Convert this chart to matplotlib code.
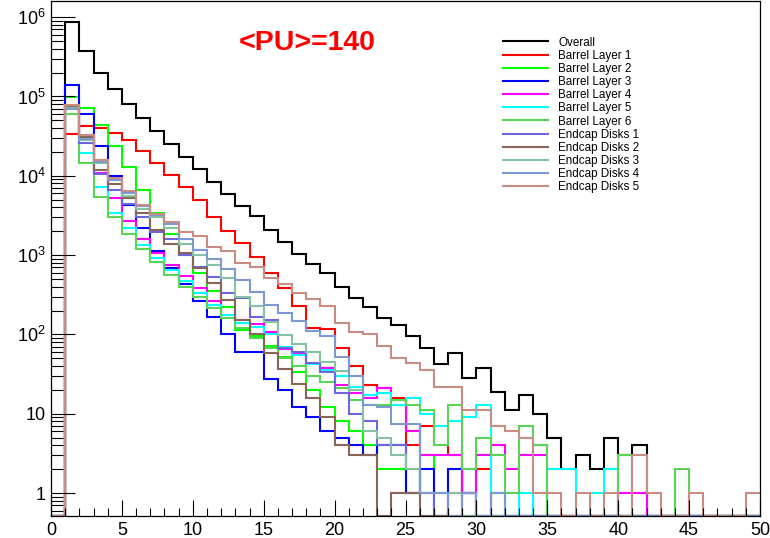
import numpy as np
import matplotlib
matplotlib.use("Agg")
import matplotlib.pyplot as plt
from matplotlib.ticker import FixedLocator, FuncFormatter, MultipleLocator

plt.rcParams['font.family'] = ['Liberation Sans', 'DejaVu Sans']
plt.rcParams['mathtext.fontset'] = 'custom'
plt.rcParams['mathtext.rm'] = 'Liberation Sans'
plt.rcParams['mathtext.it'] = 'Liberation Sans'

# ---- data: bin contents for bins [0,1), [1,2), ... [49,50) ----
bin_edges = np.arange(0, 51, 1)

overall = [0, 8.6e5, 3.8e5, 2.0e5, 1.23e5, 8.0e4, 5.3e4, 3.67e4, 2.5e4, 1.74e4,
           1.23e4, 8.4e3, 5.9e3, 4.15e3, 3.1e3, 2.07e3, 1.47e3, 1.02e3, 766, 589,
           395, 285, 220, 162, 131, 95, 67, 42, 59, 28,
           38, 19, 11, 17, 10, 5, 2, 3, 2, 5,
           3, 4, 0, 0, 0, 0, 0, 0, 0, 0]
barrel1 = [0, 3.4e4, 4.2e4, 4.0e4, 3.5e4, 2.8e4, 2.07e4, 1.44e4, 1.02e4, 7.2e3,
           4.9e3, 3.05e3, 2.03e3, 1.44e3, 937, 600, 381, 230, 119, 116,
           67, 40, 23, 21, 16, 4, 7, 4, 3, 1,
           2, 0, 0, 0, 0, 0, 0, 0, 0, 0,
           0, 0, 0, 0, 0, 0, 0, 0, 0, 0]
barrel2 = [0, 9.8e4, 7.1e4, 4.37e4, 2.37e4, 1.28e4, 6.6e3, 3.4e3, 1.85e3, 1.0e3,
           590, 355, 224, 113, 95, 72, 52, 34, 20, 12,
           8, 6, 4, 2, 2, 1, 3, 1, 2, 1,
           0, 1, 0, 0, 1, 0, 0, 0, 0, 0,
           0, 0, 0, 0, 0, 0, 0, 0, 0, 0]
barrel3 = [0, 1.4e5, 5.96e4, 2.37e4, 9.8e3, 4.3e3, 2.18e3, 1.14e3, 682, 430,
           266, 164, 101, 60, 60, 27, 20, 12, 9, 6,
           5, 4, 3, 4, 4, 1, 2, 0, 2, 1,
           0, 0, 0, 0, 0, 0, 0, 0, 0, 0,
           0, 0, 0, 0, 0, 0, 0, 0, 0, 0]
barrel4 = [0, 7.6e4, 3.0e4, 1.1e4, 5.2e3, 2.69e3, 1.58e3, 1.05e3, 750, 540,
           381, 260, 176, 150, 135, 106, 65, 58, 42, 38,
           23, 18, 16, 21, 15, 6, 3, 3, 3, 1,
           3, 4, 2, 3, 3, 0, 0, 0, 0, 0,
           1, 1, 0, 0, 0, 0, 0, 0, 0, 0]
barrel5 = [0, 7.4e4, 1.95e4, 7.2e3, 3.4e3, 2.2e3, 1.35e3, 910, 650, 470,
           330, 235, 175, 140, 125, 100, 70, 55, 42, 36,
           30, 22, 17, 18, 13, 16, 10, 7, 8, 9,
           13, 1, 0, 1, 0, 2, 2, 1, 1, 2,
           0, 0, 0, 0, 0, 0, 0, 0, 0, 0]
barrel6 = [0, 6.1e4, 1.44e4, 5.4e3, 3.0e3, 1.85e3, 1.2e3, 820, 560, 400,
           300, 215, 160, 120, 90, 68, 50, 40, 30, 25,
           21, 15, 13, 13, 15, 13, 11, 4, 13, 2,
           5, 3, 1, 7, 4, 0, 0, 0, 0, 0,
           3, 0, 0, 0, 2, 0, 0, 0, 0, 0]
endcap1 = [0, 7.0e4, 2.6e4, 1.05e4, 6.6e3, 4.4e3, 3.0e3, 1.97e3, 1.58e3, 1.0e3,
           700, 535, 335, 285, 167, 150, 67, 60, 43, 34,
           18, 10, 8, 4, 4, 2, 1, 0, 1, 0,
           0, 0, 0, 0, 0, 0, 0, 0, 0, 0,
           0, 0, 0, 0, 0, 0, 0, 0, 0, 0]
endcap2 = [0, 7.5e4, 3.1e4, 1.2e4, 7.8e3, 5.2e3, 3.4e3, 2.1e3, 1.4e3, 1.05e3,
           680, 440, 270, 150, 100, 59, 37, 24, 15.6, 9,
           4, 3, 3, 0, 1, 1, 0, 0, 0, 0,
           0, 0, 0, 0, 0, 0, 0, 0, 0, 0,
           0, 0, 0, 0, 0, 0, 0, 0, 0, 0]
endcap3 = [0, 7.2e4, 2.8e4, 1.45e4, 8.9e3, 5.6e3, 3.8e3, 3.0e3, 2.2e3, 1.4e3,
           1.0e3, 760, 509, 300, 230, 144, 98, 75, 60, 45,
           35, 20, 6, 5, 3, 2, 1, 1, 1, 0,
           0, 0, 0, 0, 0, 0, 0, 0, 0, 0,
           0, 0, 0, 0, 0, 0, 0, 0, 0, 0]
endcap4 = [0, 7.0e4, 2.9e4, 1.5e4, 8.9e3, 6.0e3, 4.2e3, 3.2e3, 2.5e3, 1.58e3,
           1.16e3, 885, 661, 486, 346, 235, 185, 149, 111, 95,
           52, 30, 13, 12, 7.5, 7.5, 1, 1, 0, 1,
           0, 1, 0, 0, 0, 0, 0, 0, 0, 0,
           0, 0, 0, 0, 0, 0, 0, 0, 0, 0]
endcap5 = [0, 7.8e4, 3.3e4, 1.57e4, 9.5e3, 6.4e3, 4.3e3, 3.3e3, 2.6e3, 1.97e3,
           1.72e3, 1.28e3, 1.14e3, 801, 702, 509, 432, 330, 277, 228,
           141, 106, 101, 71, 50, 43, 36, 22, 22, 11,
           11, 7, 6, 5, 1, 1, 0, 1, 0, 1,
           0, 3, 1, 0, 0, 1, 0, 0, 0, 1]

labels = ["Overall", "Barrel Layer 1", "Barrel Layer 2", "Barrel Layer 3",
          "Barrel Layer 4", "Barrel Layer 5", "Barrel Layer 6",
          "Endcap Disks 1", "Endcap Disks 2", "Endcap Disks 3",
          "Endcap Disks 4", "Endcap Disks 5"]
series = [overall, barrel1, barrel2, barrel3, barrel4, barrel5, barrel6,
          endcap1, endcap2, endcap3, endcap4, endcap5]
colors = ["#000000", "#ff0000", "#00ff00", "#0000ff", "#ff00ff", "#00ffff",
          "#59d454", "#6b66de", "#876657", "#85c2a3", "#7d99d1", "#c98c82"]

YMIN, YMAX = 0.513, 1.6e6

fig = plt.figure(figsize=(7.70, 5.38), dpi=100)
ax = fig.add_axes([51 / 770, 1 - 516 / 538, (760 - 51) / 770, (516 - 1) / 538])

for vals, col, lab in zip(series, colors, labels):
    v = np.array(vals, dtype=float)
    v[v <= 0] = YMIN
    ax.stairs(v, bin_edges, baseline=None, color=col, lw=1.5, label=lab)

ax.set_yscale('log')
ax.set_xlim(0, 50)
ax.set_ylim(YMIN, YMAX)

# ticks like ROOT: inward, left/bottom only
ax.xaxis.set_major_locator(MultipleLocator(5))
ax.xaxis.set_minor_locator(MultipleLocator(1))
ax.yaxis.set_major_locator(FixedLocator([1, 10, 1e2, 1e3, 1e4, 1e5, 1e6]))
minor = [m * 10.0 ** k for k in range(-1, 7) for m in range(2, 10)]
ax.yaxis.set_minor_locator(FixedLocator(minor))


def yfmt(v, pos):
    e = int(round(np.log10(v)))
    if e == 0:
        return "1"
    if e == 1:
        return "10"
    return r"$\mathregular{10^{%d}}$" % e


ax.yaxis.set_major_formatter(FuncFormatter(yfmt))
ax.yaxis.set_minor_formatter(FuncFormatter(lambda v, p: ""))
ax.tick_params(axis='y', which='major', direction='in', length=17, width=0.8,
               labelsize=13, pad=4, right=False)
ax.tick_params(axis='y', which='minor', direction='in', length=8.5, width=0.8,
               right=False)
ax.tick_params(axis='x', which='major', direction='in', length=11.5, width=0.8,
               labelsize=13, pad=4, top=False)
ax.tick_params(axis='x', which='minor', direction='in', length=5.8, width=0.8,
               top=False)
for s in ax.spines.values():
    s.set_linewidth(0.9)

# y-axis title, cut off at the left edge as in the original canvas
fig.text(-0.022, 0.51, "Entries / bin", rotation=90, fontsize=13,
         ha='left', va='center')

ax.text(307 / 770, 1 - 43 / 538, "<PU>=140", transform=fig.transFigure,
        color='#ff0000', fontsize=20.5, fontweight='bold', ha='center', va='center')

leg = ax.legend(loc='upper left', bbox_to_anchor=(503 / 770, 1 - 36.5 / 538),
                bbox_transform=fig.transFigure, frameon=False, fontsize=8.4,
                handlelength=3.86, handletextpad=0.86, labelspacing=0.1,
                borderpad=0, borderaxespad=0)
for h in leg.get_lines():
    h.set_linewidth(1.5)

fig.savefig("out.png", dpi=100)
